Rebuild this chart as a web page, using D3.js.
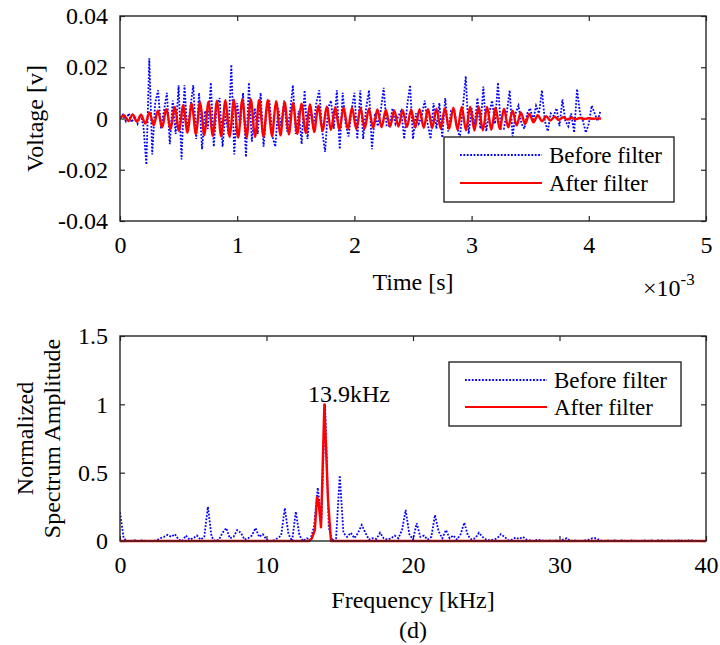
<!DOCTYPE html>
<html>
<head>
<meta charset="utf-8">
<script src="https://cdn.jsdelivr.net/npm/d3@7"></script>
<style>
  html, body { margin: 0; padding: 0; background: #fff; }
  svg, svg text { font-family: "Liberation Serif", "Times New Roman", Times, "DejaVu Serif", serif; }
</style>
</head>
<body>
<svg id="chart" width="720" height="645"></svg>
<script>
// ---------- DATA ----------
// Top panel: time signal (time in ms; axis shows x10^-3 s)
const timeTicks = [0, 1, 2, 3, 4, 5];
const voltTicks = [-0.04, -0.02, 0, 0.02, 0.04];
const beforeStep = 0.025; // ms between samples of "Before filter"
const beforeVolt = [
  0, 0.0015, -0.001, 0.002, -0.0015, 0.001, -0.002, 0.0015,
  -0.003, -0.018, 0.0235, -0.014, 0.006, 0.011, -0.004, 0.003,
  0.010, -0.010, 0.007, -0.006, 0.013, -0.016, 0.013, -0.005,
  0.004, 0.013, -0.008, 0.010, -0.012, 0.003, -0.004, 0.014,
  -0.011, 0.005, 0.008, -0.011, 0.002, -0.006, 0.021, -0.014,
  0.006, -0.003, 0.010, -0.015, 0.014, -0.009, 0.004, -0.006,
  0.010, -0.011, 0.003, 0.007, -0.007, -0.011, 0.004, -0.003,
  0.007, -0.005, 0.002, 0.013, -0.006, 0.003, -0.010, 0.011,
  -0.008, 0.004, -0.003, 0.006, 0.011, -0.005, -0.013, 0.004,
  0.007, -0.004, 0.011, -0.012, 0.010, -0.002, -0.007, 0.003,
  0.010, -0.008, 0.011, -0.008, 0.004, 0.011, -0.012, 0.002,
  -0.003, 0.003, 0.012, -0.003, -0.003, 0.004, -0.002, 0.001,
  0.003, -0.008, 0.005, 0.013, -0.008, 0.002, -0.002, 0.001,
  0.007, -0.002, -0.008, 0.006, -0.004, 0.006, -0.0075, 0.008,
  -0.005, 0.003, 0.004, -0.003, -0.0075, 0.004, 0.0165, -0.006,
  0.004, -0.003, 0.008, -0.004, 0.0125, -0.005, 0.002, 0.007,
  -0.002, 0.014, -0.004, -0.004, 0.002, 0.011, -0.007, 0.002,
  0.005, -0.002, -0.004, 0.002, 0.004, -0.001, 0.005, 0.002,
  0.011, -0.001, -0.005, 0.002, 0.001, 0.004, -0.003, 0.0075,
  -0.001, -0.003, 0.002, -0.0055, 0.0115, 0.002, -0.001, -0.0055,
  -0.002, 0.005, 0.002, -0.001, 0.003
];
const afterStep = 0.036; // ms between successive extrema of "After filter"
const afterVolt = [
  0, 0.0012, -0.0010, 0.0016, -0.0012, 0.0015, -0.0020, 0.0024,
  -0.0026, 0.0030, -0.0034, 0.0036, -0.0040, 0.0045, -0.0048, 0.0052,
  -0.0055, 0.0058, -0.0060, 0.0063, -0.0065, 0.0066, -0.0068, 0.0069,
  -0.0070, 0.0071, -0.0072, 0.0073, -0.0074, 0.0074, -0.0073, 0.0075,
  -0.0072, 0.0073, -0.0071, 0.0072, -0.0069, 0.0068, -0.0066, 0.0064,
  -0.0062, 0.0061, -0.0060, 0.0058, -0.0057, 0.0055, -0.0053, 0.0050,
  -0.0048, 0.0046, -0.0045, 0.0044, -0.0044, 0.0043, -0.0042, 0.0042,
  -0.0041, 0.0040, -0.0039, 0.0038, -0.0037, 0.0035, -0.0034, 0.0033,
  -0.0032, 0.0031, -0.0031, 0.0032, -0.0033, 0.0034, -0.0035, 0.0036,
  -0.0036, 0.0037, -0.0037, 0.0038, -0.0039, 0.0040, -0.0041, 0.0042,
  -0.0044, 0.0045, -0.0046, 0.0046, -0.0047, 0.0046, -0.0046, 0.0045,
  -0.0044, 0.0042, -0.0040, 0.0037, -0.0034, 0.0030, -0.0027, 0.0024,
  -0.0021, 0.0018, -0.0015, 0.0013, -0.0011, 0.0009, -0.0008, 0.0007,
  -0.0006, 0.0005, -0.0004, 0.0003, -0.0003, 0.0002, -0.0002, 0.0001,
  -0.0001, 0, 0
];

// Bottom panel: spectrum (kHz)
const freqTicks = [0, 10, 20, 30, 40];
const ampTicks = [0, 0.5, 1, 1.5];
const specStep = 0.25; // kHz between spectrum bins of "Before filter"
const beforeSpec = [
  0.21, 0.02, 0, 0, 0.005, 0, 0.005, 0,
  0, 0, 0.005, 0.02, 0.03, 0.045, 0.03, 0.05,
  0.01, 0, 0.04, 0.01, 0.02, 0.04, 0.01, 0.03,
  0.25, 0.03, 0, 0.01, 0.06, 0.095, 0.02, 0.03,
  0.08, 0.06, 0.01, 0.02, 0.04, 0.095, 0.03, 0.05,
  0.01, 0, 0.005, 0.02, 0.04, 0.24, 0.05, 0,
  0.215, 0.04, 0, 0.02, 0.01, 0.11, 0.39, 0.15,
  1.0, 0.1, 0, 0.02, 0.48, 0.06, 0.03, 0.06,
  0.02, 0.06, 0.117, 0.06, 0.01, 0.02, 0.015, 0.06,
  0.02, 0.01, 0.02, 0.04, 0.02, 0.08, 0.227, 0.05,
  0.01, 0.13, 0.03, 0.04, 0.01, 0.03, 0.19, 0.07,
  0.02, 0.08, 0.02, 0.04, 0.01, 0.05, 0.134, 0.04,
  0.01, 0.02, 0.06, 0.03, 0.01, 0.005, 0.01, 0.02,
  0.05, 0.03, 0.005, 0.01, 0.025, 0.015, 0.03, 0.01,
  0.005, 0, 0.01, 0.005, 0, 0.005, 0, 0.005,
  0, 0.01, 0.02, 0, 0.005, 0, 0, 0.005,
  0.01, 0.02, 0.02, 0.005, 0, 0.005, 0, 0.005,
  0, 0.005, 0, 0, 0.005, 0, 0, 0.005,
  0, 0.005, 0, 0.005, 0.005, 0, 0.005, 0,
  0.005, 0.005, 0, 0.005, 0.005, 0, 0, 0,
  0
];
const afterSpecFreq = [0, 12.9, 13.1, 13.3, 13.45, 13.55, 13.72, 13.95, 14.2, 14.4, 40];
const afterSpecAmp  = [0, 0,    0.02, 0.08, 0.32, 0.29,  0.10,  1.0,   0.3,  0,    0];

const peakLabel = "13.9kHz";
const peakLabelPos = [15.63, 1.02];
const legendLabels = ["Before filter", "After filter"];

// ---------- LAYOUT ----------
const FONT = '"Liberation Serif", "Times New Roman", Times, "DejaVu Serif", serif';
const svg = d3.select("#chart").attr("font-family", FONT);
const axisColor = "#262626";
const blue = "#0000ff", red = "#ff0000";
const fontSize = 24;

const L = 120, R = 706;
const top1 = 16, bot1 = 221;
const top2 = 336, bot2 = 541;

const x1 = d3.scaleLinear().domain([0, 5]).range([L, R]);
const y1 = d3.scaleLinear().domain([-0.04, 0.04]).range([bot1, top1]);
const x2 = d3.scaleLinear().domain([0, 40]).range([L, R]);
const y2 = d3.scaleLinear().domain([0, 1.5]).range([bot2, top2]);

function txt(sel) { return sel.attr("font-family", FONT).attr("fill", "#000"); }

function styleAxis(g) {
  g.attr("font-family", FONT);
  g.select(".domain").remove();
  g.selectAll(".tick line").attr("stroke", axisColor).attr("stroke-width", 1.2);
  g.selectAll(".tick text").attr("fill", "#000").attr("font-size", fontSize).attr("font-family", FONT);
}

function drawFrame(x, y, xt, yt, top, bot, fmtY) {
  svg.append("g").attr("transform", `translate(0,${bot})`)
    .call(d3.axisBottom(x).tickValues(xt).tickSizeInner(-5).tickSizeOuter(0).tickPadding(15).tickFormat(d3.format("d")))
    .call(styleAxis);
  svg.append("g").attr("transform", `translate(0,${top})`)
    .call(d3.axisTop(x).tickValues(xt).tickSizeInner(-5).tickSizeOuter(0).tickFormat(""))
    .call(styleAxis);
  svg.append("g").attr("transform", `translate(${L},0)`)
    .call(d3.axisLeft(y).tickValues(yt).tickSizeInner(-5).tickSizeOuter(0).tickPadding(12).tickFormat(fmtY))
    .call(styleAxis);
  svg.append("g").attr("transform", `translate(${R},0)`)
    .call(d3.axisRight(y).tickValues(yt).tickSizeInner(-5).tickSizeOuter(0).tickFormat(""))
    .call(styleAxis);
}

function drawBox(top, bot) {
  svg.append("rect").attr("x", L).attr("y", top).attr("width", R - L).attr("height", bot - top)
    .attr("fill", "none").attr("stroke", axisColor).attr("stroke-width", 1.4);
}

// ---------- TOP PANEL ----------
const fmtV = d => d === 0 ? "0" : d3.format(".2f")(d).replace("−", "-");
drawFrame(x1, y1, timeTicks, voltTicks, top1, bot1, fmtV);

svg.append("clipPath").attr("id", "clip1").append("rect")
  .attr("x", L).attr("y", top1).attr("width", R - L).attr("height", bot1 - top1);

const lineBefore = d3.line().x((d, i) => x1(i * beforeStep)).y(d => y1(d));
svg.append("path").datum(beforeVolt).attr("d", lineBefore)
  .attr("fill", "none").attr("stroke", blue).attr("stroke-width", 1.8)
  .attr("stroke-dasharray", "1.8,1.6").attr("clip-path", "url(#clip1)");

const lineAfter = d3.line().x((d, i) => x1(i * afterStep)).y(d => y1(d)).curve(d3.curveCardinal.tension(0));
svg.append("path").datum(afterVolt).attr("d", lineAfter)
  .attr("fill", "none").attr("stroke", red).attr("stroke-width", 2.4)
  .attr("stroke-linejoin", "round").attr("clip-path", "url(#clip1)");

drawBox(top1, bot1);

// axis labels
txt(svg.append("text")).attr("x", (L + R) / 2).attr("y", 290).attr("text-anchor", "middle")
  .attr("font-size", fontSize).text("Time [s]");
txt(svg.append("text")).attr("transform", `translate(43,${(top1 + bot1) / 2}) rotate(-90)`)
  .attr("text-anchor", "middle").attr("font-size", fontSize).text("Voltage [v]");
const expo = txt(svg.append("text")).attr("x", 643).attr("y", 296).attr("font-size", fontSize);
expo.append("tspan").text("×10");
expo.append("tspan").attr("dy", -11).attr("font-size", 17).text("-3");

function drawLegend(bx, by, bw, bh, ly1, ly2, lx0, lx1, tx) {
  svg.append("rect").attr("x", bx).attr("y", by).attr("width", bw).attr("height", bh)
    .attr("fill", "#fff").attr("stroke", axisColor).attr("stroke-width", 1.4);
  svg.append("line").attr("x1", lx0).attr("x2", lx1).attr("y1", ly1).attr("y2", ly1)
    .attr("stroke", blue).attr("stroke-width", 1.8).attr("stroke-dasharray", "1.8,1.6");
  svg.append("line").attr("x1", lx0).attr("x2", lx1).attr("y1", ly2).attr("y2", ly2)
    .attr("stroke", red).attr("stroke-width", 2);
  txt(svg.append("text")).attr("x", tx).attr("y", ly1 + 8).attr("font-size", 23).text(legendLabels[0]);
  txt(svg.append("text")).attr("x", tx).attr("y", ly2 + 8).attr("font-size", 23).text(legendLabels[1]);
}
drawLegend(444, 137, 230, 65, 155, 183, 460, 542, 549);

// ---------- BOTTOM PANEL ----------
const fmtA = d => String(d);
drawFrame(x2, y2, freqTicks, ampTicks, top2, bot2, fmtA);

svg.append("clipPath").attr("id", "clip2").append("rect")
  .attr("x", L).attr("y", top2).attr("width", R - L).attr("height", bot2 - top2 + 2);

const specBefore = d3.line().x((d, i) => x2(i * specStep)).y(d => y2(d));
svg.append("path").datum(beforeSpec).attr("d", specBefore)
  .attr("fill", "none").attr("stroke", blue).attr("stroke-width", 1.8)
  .attr("stroke-dasharray", "1.8,1.6").attr("clip-path", "url(#clip2)");

const specAfter = d3.line().x(d => x2(d[0])).y(d => y2(d[1]));
svg.append("path").datum(afterSpecFreq.map((f, i) => [f, afterSpecAmp[i]])).attr("d", specAfter)
  .attr("fill", "none").attr("stroke", red).attr("stroke-width", 2.4)
  .attr("stroke-linejoin", "round").attr("clip-path", "url(#clip2)");

drawBox(top2, bot2);

txt(svg.append("text")).attr("x", x2(peakLabelPos[0])).attr("y", y2(peakLabelPos[1]))
  .attr("text-anchor", "middle").attr("font-size", fontSize).text(peakLabel);

drawLegend(449, 362, 232, 64, 380, 407, 465, 547, 554);

txt(svg.append("text")).attr("x", (L + R) / 2).attr("y", 608).attr("text-anchor", "middle")
  .attr("font-size", fontSize).text("Frequency [kHz]");
txt(svg.append("text")).attr("x", (L + R) / 2).attr("y", 638).attr("text-anchor", "middle")
  .attr("font-size", fontSize).text("(d)");
txt(svg.append("text")).attr("transform", `translate(33,${(top2 + bot2) / 2}) rotate(-90)`)
  .attr("text-anchor", "middle").attr("font-size", fontSize).text("Normalized");
txt(svg.append("text")).attr("transform", `translate(60,${(top2 + bot2) / 2}) rotate(-90)`)
  .attr("text-anchor", "middle").attr("font-size", fontSize).text("Spectrum Amplitude");
</script>
</body>
</html>
